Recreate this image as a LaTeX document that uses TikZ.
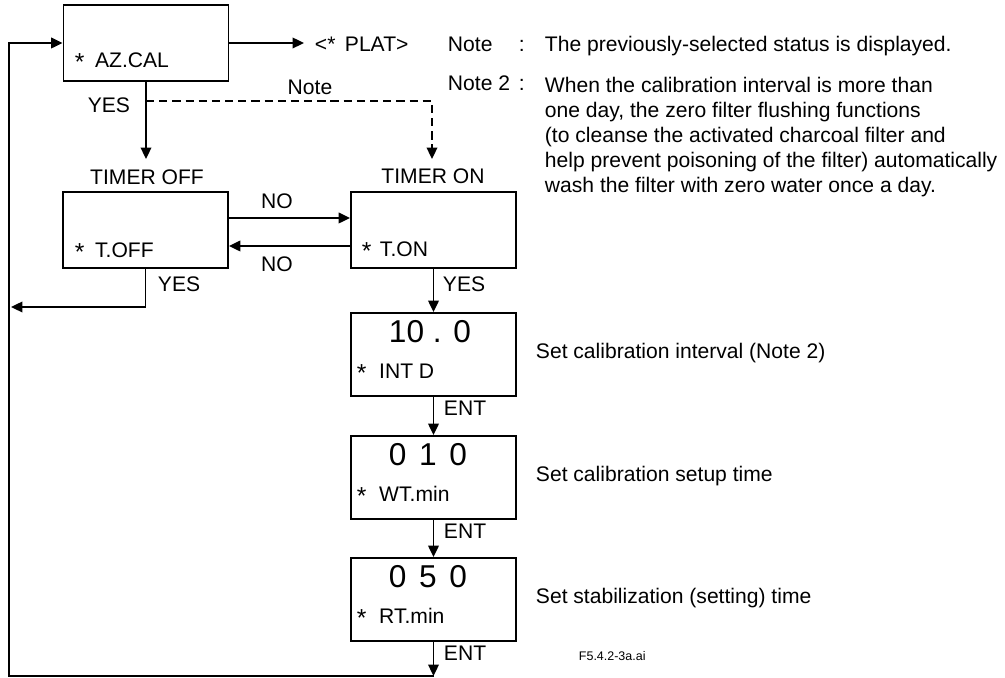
\documentclass[tikz,border=0pt]{standalone}
\usepackage{fontspec}
\setmainfont{Liberation Sans}
\usetikzlibrary{arrows.meta}

\newcommand{\st}{\raisebox{-1.6pt}{\fontsize{14}{14}\selectfont *}}

\begin{document}
\begin{tikzpicture}[x=0.02cm, y=-0.02cm, >={Triangle[length=6.5pt,width=6pt]},
    line width=1.1pt, font=\fontsize{12}{14.2}\selectfont,
    disp/.style={draw, minimum width=3.3cm, minimum height=1.52cm, inner sep=0pt},
    dispb/.style={disp, minimum height=1.66cm},
    txt/.style={anchor=base west, inner sep=0pt},
    lbl/.style={anchor=base, inner sep=0pt},
    big/.style={txt, font=\fontsize{18}{20}\selectfont}]
  \useasboundingbox (0,0) rectangle (1005,678);
  % display boxes
  \node[disp] (azcal) at (146,43) {};
  \node[disp] (toff) at (145.5,230) {};
  \node[disp] (ton) at (433.5,230) {};
  \node[dispb] (intd) at (433.5,354.5) {};
  \node[dispb] (wtmin) at (433.5,477.5) {};
  \node[dispb] (rtmin) at (433.5,599.5) {};
  % display contents
  \node[txt] (azcalT) at (74,68) {\st\hspace{0.5em}AZ.CAL};
  \node[txt] (toffT) at (74,258) {\st\hspace{0.5em}T.OFF};
  \node[txt] (tonT) at (361,257) {\st\hspace{0.4em}T.ON};
  \node[big] (intdV) at (388,343) {10 . 0};
  \node[txt] (intdT) at (356,379) {\st\hspace{0.6em}INT D};
  \node[big] (wtminV) at (388,466) {0\hspace{0.4em}1\hspace{0.4em}0};
  \node[txt] (wtminT) at (356,502) {\st\hspace{0.6em}WT.min};
  \node[big] (rtminV) at (388,588) {0\hspace{0.4em}5\hspace{0.4em}0};
  \node[txt] (rtminT) at (356,624) {\st\hspace{0.6em}RT.min};
  % labels
  \node[lbl, anchor=base east] (yesA) at (131,113) {YES};
  \node[lbl] (noteL) at (310,95) {Note};
  \node[lbl] (toffL) at (147,185) {TIMER OFF};
  \node[lbl] (tonL) at (433,184) {TIMER ON};
  \node[lbl] (noR) at (277,209) {NO};
  \node[lbl] (noL) at (277,272) {NO};
  \node[txt] (yesB) at (157,292) {YES};
  \node[txt] (yesC) at (442,292) {YES};
  \node[txt] (entA) at (443,416) {ENT};
  \node[txt] (entB) at (443,539) {ENT};
  \node[txt] (entC) at (443,661) {ENT};
  \node[txt] (plat) at (314,52) {<*\hspace{0.45em}PLAT>};
  % notes
  \node[txt] (note1) at (447,52) {Note};
  \node[txt] (colon1) at (518,52) {:};
  \node[txt] (note1T) at (544,52) {The previously-selected status is displayed.};
  \node[txt] (note2) at (447,91) {Note 2};
  \node[txt] (colon2) at (518,91) {:};
  \node[txt, anchor=north west, align=left] (note2T) at (544,76)
    {When the calibration interval is more than\\
     one day, the zero filter flushing functions\\
     (to cleanse the activated charcoal filter and\\
     help prevent poisoning of the filter) automatically\\
     wash the filter with zero water once a day.};
  \node[txt] (intdD) at (535,359) {Set calibration interval (Note 2)};
  \node[txt] (wtminD) at (535,482) {Set calibration setup time};
  \node[txt] (rtminD) at (535,604) {Set stabilization (setting) time};
  \node[txt, font=\fontsize{7.1}{8}\selectfont] (fig) at (578,661) {F5.4.2-3a.ai};
  % connectors
  \coordinate (platIn) at (304,43);
  \coordinate (offIn) at (146,159);
  \coordinate (split) at (146,101);
  \coordinate (dashEnd) at (432,159);
  \coordinate (offEnd) at (11,307);
  \coordinate (loopB) at (433.5,676);
  \coordinate (loopL) at (9,676);
  \draw[->] (azcal.east) -- (platIn);
  \draw[->] (azcal.south) -- (offIn);
  \draw[->, dash pattern=on 4.7pt off 2.8pt] (split) -| (dashEnd);
  \draw[->] (toff.east |- 0,218) -- (ton.west |- 0,218);
  \draw[->] (ton.west |- 0,246) -- (toff.east |- 0,246);
  \draw[->] (toff.south) |- (offEnd);
  \draw[->] (ton.south) -- (intd.north);
  \draw[->] (intd.south) -- (wtmin.north);
  \draw[->] (wtmin.south) -- (rtmin.north);
  \draw[->] (rtmin.south) -- (loopB);
  \draw[->] (loopB) -- (loopL) |- (azcal.west);
\end{tikzpicture}
\end{document}
